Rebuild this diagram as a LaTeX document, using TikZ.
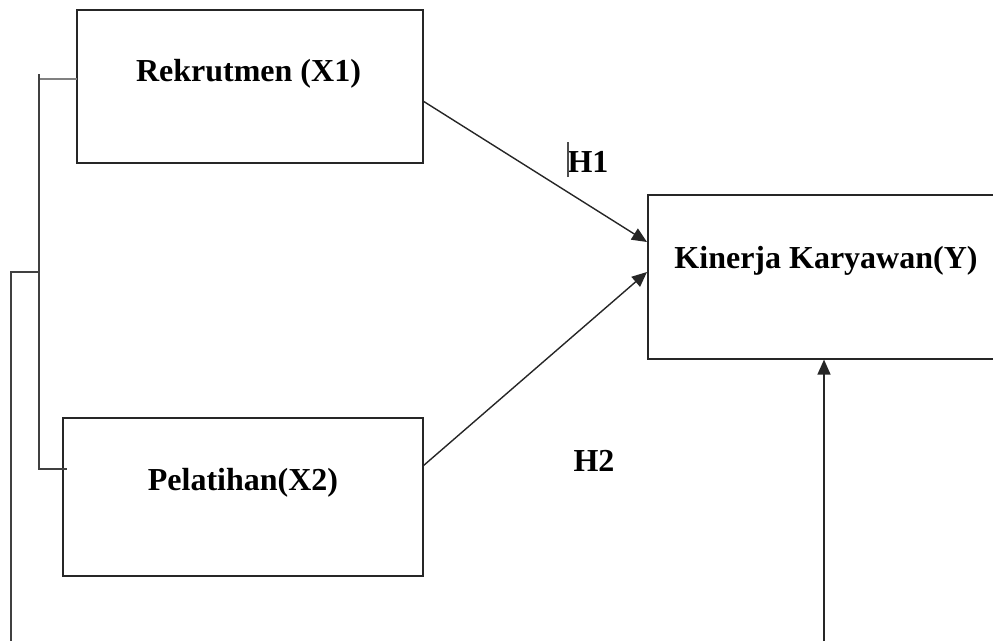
\documentclass[tikz,border=0pt]{standalone}
\usepackage{fontspec}
\setmainfont{Liberation Serif}
\usetikzlibrary{arrows.meta}
\begin{document}
\begin{tikzpicture}[x=1pt,y=-1pt,
  box/.style={draw=black!85,line width=1.6pt,rectangle,inner sep=0pt},
  lbl/.style={font=\fontsize{32}{38}\selectfont\bfseries,inner sep=0pt,anchor=base},
  wire/.style={draw=black!75,line width=1.6pt},
  link/.style={draw=black!85,line width=1.4pt,-{Triangle[length=15pt,width=13pt]}}]
\useasboundingbox (0,0) rectangle (993,641);

% variable boxes
\node[box,minimum width=346pt,minimum height=153pt] (x1) at (250,86.5) {};
\node[box,minimum width=360pt,minimum height=158pt] (x2) at (243,497) {};
\node[box,minimum width=358pt,minimum height=164pt,anchor=north west] (y) at (647,194) {};

% box captions
\node[lbl] (tx1) at (248.5,81) {Rekrutmen (X1)};
\node[lbl] (tx2) at (243,490) {Pelatihan(X2)};
\node[lbl] (ty) at (826,268) {Kinerja Karyawan(Y)};
\node[lbl] (h1) at (588,172) {H1};
\node[lbl] (h2) at (594,471) {H2};
\coordinate (c1) at (568,177);
\coordinate (c2) at (568,142);
\draw[black!70,line width=1.2pt] (c1) -- (c2);

% hypothesis paths
\coordinate (a1) at (423,101);
\coordinate (b1) at (647,242);
\coordinate (a2) at (423,466);
\coordinate (b2) at (647,272);
\draw[link] (a1) -- (b1);
\draw[link] (a2) -- (b2);

% bracket joining X1 and X2
\coordinate (t1) at (77,79);
\coordinate (t2) at (67,469);
\coordinate (j) at (39,272);
\coordinate (jt) at (39,74);
\draw[wire,draw=black!50] (t1) -- (t1 -| j);
\draw[wire] (jt) -- (t2 -| j) -- (t2);

% combined path into Y
\coordinate (o) at (11,641);
\coordinate (u) at (824,641);
\draw[wire] (j) -- (j -| o) -- (o);
\draw[link] (u) -- (y.south -| u);
\end{tikzpicture}
\end{document}
